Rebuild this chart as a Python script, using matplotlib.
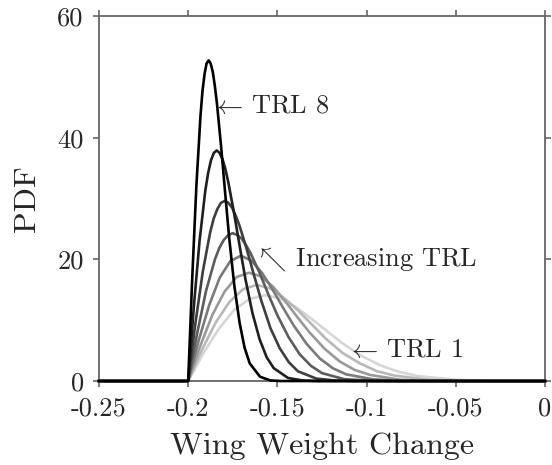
import matplotlib
matplotlib.use('Agg')
import matplotlib.pyplot as plt

plt.rcParams['font.family'] = 'serif'
plt.rcParams['font.serif'] = ['cmr10']
plt.rcParams['mathtext.fontset'] = 'cm'
plt.rcParams['axes.unicode_minus'] = False

# PDF curves, TRL 1 (light) .. TRL 8 (black)
x_trl1 = [-0.25, -0.2, -0.1914, -0.1828, -0.1742, -0.1656, -0.157, -0.1484, -0.1398, -0.1312,
          -0.1226, -0.114, -0.1033, -0.0925, -0.0818, -0.071, -0.0495, -0.028, -0.0065, 0.0]
y_trl1 = [0, 0, 4.6, 8.6, 11.7, 13.5, 14.1, 13.6, 12.2, 10.3,
          8.3, 6.3, 4.2, 2.6, 1.5, 0.8, 0.2, 0.0, 0.0, 0]
x_trl2 = [-0.25, -0.2, -0.1923, -0.1846, -0.1769, -0.1692, -0.1615, -0.1538, -0.1461, -0.1384,
          -0.1307, -0.123, -0.1134, -0.1037, -0.0941, -0.0845, -0.0652, -0.046, -0.0267, 0.0]
y_trl2 = [0, 0, 5.1, 9.6, 13.0, 15.1, 15.8, 15.2, 13.6, 11.6,
          9.3, 7.0, 4.6, 2.9, 1.6, 0.9, 0.2, 0.0, 0.0, 0]
x_trl3 = [-0.25, -0.2, -0.1932, -0.1864, -0.1796, -0.1728, -0.166, -0.1592, -0.1524, -0.1456,
          -0.1388, -0.132, -0.1235, -0.115, -0.1065, -0.098, -0.081, -0.064, -0.047, 0.0]
y_trl3 = [0, 0, 5.8, 10.9, 14.7, 17.1, 17.8, 17.2, 15.5, 13.1,
          10.5, 8.0, 5.3, 3.2, 1.8, 1.0, 0.2, 0.0, 0.0, 0]
x_trl4 = [-0.25, -0.2, -0.1941, -0.1882, -0.1823, -0.1764, -0.1705, -0.1646, -0.1587, -0.1528,
          -0.1469, -0.141, -0.1336, -0.1262, -0.1189, -0.1115, -0.0967, -0.082, -0.0672, 0.0]
y_trl4 = [0, 0, 6.7, 12.5, 17.0, 19.7, 20.6, 19.8, 17.8, 15.1,
          12.1, 9.2, 6.1, 3.7, 2.1, 1.1, 0.3, 0.0, 0.0, 0]
x_trl5 = [-0.25, -0.2, -0.195, -0.19, -0.185, -0.1825, -0.18, -0.1775, -0.175, -0.1725,
          -0.17, -0.1675, -0.165, -0.16, -0.155, -0.15, -0.1437, -0.1375, -0.1312, -0.125,
          -0.1125, -0.1, -0.0875, 0.0]
y_trl5 = [0, 0, 7.8, 14.8, 20.0, 21.9, 23.2, 24.0, 24.3, 24.0,
          23.4, 22.3, 21.0, 17.8, 14.2, 10.8, 7.2, 4.4, 2.5, 1.3,
          0.3, 0.1, 0.0, 0]
x_trl6 = [-0.25, -0.2, -0.1959, -0.1918, -0.1877, -0.1857, -0.1836, -0.1816, -0.1795, -0.1775,
          -0.1754, -0.1734, -0.1713, -0.1672, -0.1631, -0.159, -0.1539, -0.1487, -0.1436, -0.1385,
          -0.1282, -0.118, -0.1077, 0.0]
y_trl6 = [0, 0, 9.6, 18.0, 24.4, 26.7, 28.3, 29.3, 29.6, 29.3,
          28.5, 27.2, 25.6, 21.7, 17.4, 13.2, 8.7, 5.4, 3.1, 1.6,
          0.4, 0.1, 0.0, 0]
x_trl7 = [-0.25, -0.2, -0.1968, -0.1936, -0.1904, -0.1888, -0.1872, -0.1856, -0.184, -0.1824,
          -0.1808, -0.1792, -0.1776, -0.1744, -0.1712, -0.168, -0.164, -0.16, -0.156, -0.152,
          -0.144, -0.136, -0.128, 0.0]
y_trl7 = [0, 0, 12.3, 23.1, 31.3, 34.2, 36.3, 37.5, 37.9, 37.5,
          36.5, 34.9, 32.8, 27.8, 22.3, 16.9, 11.2, 6.9, 3.9, 2.1,
          0.5, 0.1, 0.0, 0]
x_trl8 = [-0.25, -0.2, -0.1977, -0.1954, -0.1931, -0.192, -0.1908, -0.1897, -0.1885, -0.1874,
          -0.1862, -0.1851, -0.1839, -0.1816, -0.1793, -0.177, -0.1741, -0.1712, -0.1684, -0.1655,
          -0.1597, -0.154, -0.1482, 0.0]
y_trl8 = [0, 0, 17.1, 32.1, 43.6, 47.6, 50.5, 52.2, 52.7, 52.2,
          50.8, 48.6, 45.7, 38.7, 31.0, 23.5, 15.6, 9.6, 5.5, 2.9,
          0.7, 0.1, 0.0, 0]

curves_x = [x_trl1, x_trl2, x_trl3, x_trl4, x_trl5, x_trl6, x_trl7, x_trl8]
curves_y = [y_trl1, y_trl2, y_trl3, y_trl4, y_trl5, y_trl6, y_trl7, y_trl8]
grays = ['#d6d6d6', '#b8b8b8', '#999999', '#7a7a7a', '#5c5c5c', '#3e3e3e', '#1f1f1f', '#000000']

xticks = [-0.25, -0.2, -0.15, -0.1, -0.05, 0]
xticklabels = ['-0.25', '-0.2', '-0.15', '-0.1', '-0.05', '0']
yticks = [0, 20, 40, 60]

txt = '#262626'
axcol = '#666666'

fig = plt.figure(figsize=(5.52, 4.65), dpi=100)
ax = fig.add_axes([0.1793, 0.1806, 0.808, 0.785])

for xs, ys, c in zip(curves_x, curves_y, grays):
    ax.plot(xs, ys, color=c, lw=1.9, clip_on=False, zorder=3, solid_joinstyle='round')

ax.set_xlim(-0.25, 0)
ax.set_ylim(0, 60)
ax.set_xticks(xticks)
ax.set_xticklabels(xticklabels)
ax.set_yticks(yticks)
ax.tick_params(direction='out', top=True, right=True, length=4, width=1.2,
               color=axcol, labelsize=19, labelcolor=txt, pad=7)
for sp in ax.spines.values():
    sp.set_color(axcol)
    sp.set_linewidth(1.3)

ax.set_xlabel('Wing Weight Change', fontsize=23, color=txt, labelpad=9)
ax.set_ylabel('PDF', fontsize=23, color=txt, labelpad=12)

ax.text(-0.1869, 45.2, r'$\leftarrow\,$TRL 8', fontsize=19, color=txt, ha='left', va='center')
ax.text(-0.1628, 20.0, r'$\nwarrow\:$Increasing TRL', fontsize=19, color=txt, ha='left', va='center')
ax.text(-0.1108, 5.1, r'$\leftarrow\,$TRL 1', fontsize=19, color=txt, ha='left', va='center')

fig.savefig('out.png', dpi=100)
